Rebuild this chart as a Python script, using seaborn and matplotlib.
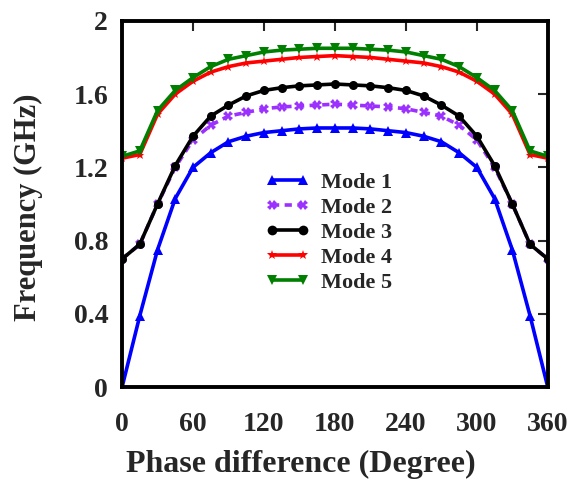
import numpy as np
import pandas as pd
import seaborn as sns
import matplotlib.pyplot as plt

# Phase difference, every 15 degrees
phase = list(range(0, 361, 15))

# first half (0..180), mirrored for 195..360
half1 = [0.00, 0.39, 0.75, 1.03, 1.20, 1.28, 1.34, 1.37, 1.39, 1.40, 1.41, 1.415, 1.415]
half2 = [0.70, 0.78, 1.00, 1.20, 1.35, 1.43, 1.48, 1.50, 1.52, 1.53, 1.535, 1.54, 1.545]
half3 = [0.70, 0.78, 1.00, 1.21, 1.37, 1.48, 1.54, 1.59, 1.62, 1.635, 1.645, 1.65, 1.655]
half4 = [1.25, 1.27, 1.49, 1.60, 1.67, 1.72, 1.75, 1.77, 1.78, 1.79, 1.80, 1.805, 1.81]
half5 = [1.26, 1.29, 1.51, 1.62, 1.69, 1.75, 1.79, 1.81, 1.83, 1.84, 1.845, 1.85, 1.85]

mode1 = half1 + half1[-2::-1]
mode2 = half2 + half2[-2::-1]
mode3 = half3 + half3[-2::-1]
mode4 = half4 + half4[-2::-1]
mode5 = half5 + half5[-2::-1]

names = ['Mode 1', 'Mode 2', 'Mode 3', 'Mode 4', 'Mode 5']
colors = ['#0000ff', '#9b30ff', '#000000', '#ff0000', '#007f00']
marks = ['^', 'X', 'o', '*', 'v']

rows = []
for name, vals in zip(names, [mode1, mode2, mode3, mode4, mode5]):
    for p, v in zip(phase, vals):
        rows.append((name, p, v))
df = pd.DataFrame(rows, columns=['mode', 'phase', 'freq'])

sns.set_theme(style='white')
plt.rcParams['font.family'] = ['Liberation Serif', 'DejaVu Serif']
plt.rcParams['font.weight'] = 'bold'

fig = plt.figure(figsize=(5.73, 4.84), dpi=100)
ax = fig.add_axes([0.213, 0.200, 0.743, 0.757])

sns.lineplot(data=df, x='phase', y='freq', hue='mode', style='mode',
             palette=dict(zip(names, colors)),
             markers=dict(zip(names, marks)),
             dashes={'Mode 1': '', 'Mode 2': (2, 1.5), 'Mode 3': '',
                     'Mode 4': '', 'Mode 5': ''},
             linewidth=2.6, markersize=6.5, markeredgewidth=0,
             ax=ax)

ax.set_xlim(0, 360)
ax.set_ylim(0, 2)
ax.set_xticks([0, 60, 120, 180, 240, 300, 360])
ax.set_yticks([0, 0.4, 0.8, 1.2, 1.6, 2])
ax.set_yticklabels(['0', '0.4', '0.8', '1.2', '1.6', '2'])
ax.tick_params(direction='in', length=7, width=1.5, top=True, right=True,
               labelsize=20)
ax.tick_params(axis='x', pad=18)
ax.tick_params(axis='y', pad=10)
for lab in ax.get_xticklabels() + ax.get_yticklabels():
    lab.set_fontweight('bold')
for s in ax.spines.values():
    s.set_linewidth(2.8)
    s.set_color('black')

ax.set_xlabel('Phase difference (Degree)', fontsize=23, fontweight='bold')
ax.set_ylabel('Frequency (GHz)', fontsize=22, fontweight='bold')
ax.xaxis.set_label_coords(0.42, -0.172)
ax.yaxis.set_label_coords(-0.185, 0.49)

leg = ax.legend(loc='upper left', bbox_to_anchor=(0.315, 0.61), frameon=False,
                prop={'size': 16, 'weight': 'bold'}, handlelength=2.0,
                labelspacing=0.2, handletextpad=0.5, borderaxespad=0,
                numpoints=2)
for h in leg.legend_handles:
    h.set_markersize(7)

fig.savefig('out.png', dpi=100)
